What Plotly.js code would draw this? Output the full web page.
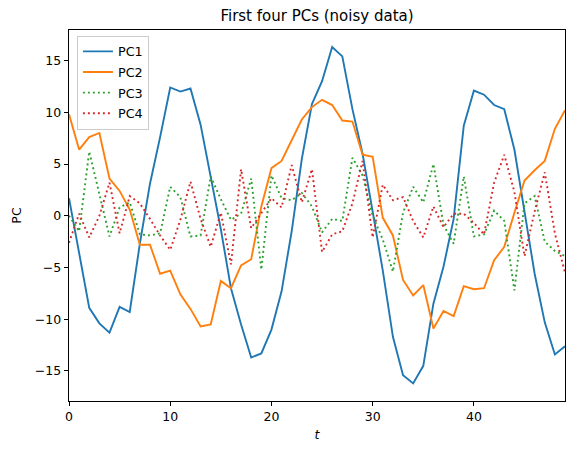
<!DOCTYPE html>
<html>
<head>
<meta charset="utf-8">
<script src="https://cdn.plot.ly/plotly-3.0.1.min.js"></script>
<style>
  html, body { margin: 0; padding: 0; background: #fff; }
  #chart { width: 575px; height: 453px; }
</style>
</head>
<body>
<div id="chart"></div>
<script>
// Time steps 0..49
const t = [
  0, 1, 2, 3, 4, 5, 6, 7, 8, 9,
  10, 11, 12, 13, 14, 15, 16, 17, 18, 19,
  20, 21, 22, 23, 24, 25, 26, 27, 28, 29,
  30, 31, 32, 33, 34, 35, 36, 37, 38, 39,
  40, 41, 42, 43, 44, 45, 46, 47, 48, 49
];

// Principal component scores
const pc1 = [
  1.7, -3.8, -8.9, -10.4, -11.3, -8.8, -9.3, -2.7, 3.1, 7.6,
  12.4, 12.0, 12.3, 8.8, 3.8, -1.3, -7.0, -10.5, -13.7, -13.3,
  -11.0, -7.3, -1.5, 5.5, 10.8, 13.0, 16.3, 15.4, 10.3, 6.0,
  0.4, -5.3, -11.7, -15.4, -16.2, -14.5, -8.5, -4.9, -0.3, 8.7,
  12.1, 11.7, 10.7, 10.3, 6.4, 0.3, -5.6, -10.3, -13.4, -12.6
];
const pc2 = [
  9.8, 6.4, 7.6, 8.0, 3.6, 2.4, 0.6, -2.8, -2.8, -5.6,
  -5.3, -7.6, -9.0, -10.7, -10.5, -6.3, -7.0, -4.8, -4.2, 0.9,
  4.6, 5.3, 7.3, 9.3, 10.5, 11.2, 10.7, 9.2, 9.1, 5.9,
  5.7, -0.2, -1.9, -6.2, -7.7, -6.7, -10.9, -9.2, -9.7, -6.8,
  -7.1, -7.0, -4.3, -3.0, 0.3, 3.4, 4.4, 5.3, 8.4, 10.2
];
const pc3 = [
  0.0, -1.5, 6.2, 2.0, -2.0, 0.8, 1.3, -1.8, -1.9, -1.7,
  2.8, 1.8, -2.0, -1.9, 3.8, 1.6, -0.4, 0.2, 3.6, -5.2,
  3.9, 1.7, 1.5, 2.2, 0.9, -1.6, -0.3, -0.5, 5.6, 3.9,
  0.0, -2.3, -5.4, 0.3, 2.8, 1.3, 5.0, -0.9, -2.7, 3.8,
  -2.0, -1.8, 0.5, -0.5, -7.2, 1.2, 1.9, -2.5, -3.4, -3.9
];
const pc4 = [
  -2.6, 0.2, -2.1, 0.0, 3.2, -1.7, 1.9, 1.2, -0.3, -1.9,
  -3.3, -0.4, 3.3, -0.3, -3.0, 0.3, -4.7, 4.5, -1.2, 0.2,
  1.7, 0.8, 4.9, 1.3, 4.5, -3.5, -1.8, -1.5, 1.2, 5.3,
  -2.1, 3.0, 1.5, 1.8, -0.5, -2.1, 0.9, -1.1, 0.2, 0.2,
  -0.7, -1.8, 3.2, 5.9, 2.3, -3.9, 0.4, 4.2, -1.7, -5.5
];

const seriesNames = ['PC1', 'PC2', 'PC3', 'PC4'];
const xTicks = [0, 10, 20, 30, 40];
const yTicks = [-15, -10, -5, 0, 5, 10, 15];

const FONT = 'DejaVu Sans, sans-serif';
const dotted = '1.9px,3.1px';

const traces = [
  { y: pc1, name: seriesNames[0], line: { color: '#1f77b4', width: 1.9 } },
  { y: pc2, name: seriesNames[1], line: { color: '#ff7f0e', width: 1.9 } },
  { y: pc3, name: seriesNames[2], line: { color: '#2ca02c', width: 1.9, dash: dotted } },
  { y: pc4, name: seriesNames[3], line: { color: '#d62728', width: 1.9, dash: dotted } }
].map(s => Object.assign({ x: t, type: 'scatter', mode: 'lines', legendgroup: s.name }, s));

const axisCommon = {
  showline: true, mirror: true, linecolor: '#000', linewidth: 1,
  ticks: 'outside', ticklen: 4.4, tickwidth: 1, tickcolor: '#000',
  showgrid: false, zeroline: false,
  tickfont: { family: FONT, size: 12.5, color: '#000' }
};

const layout = {
  width: 575, height: 453,
  margin: { l: 69, r: 10, t: 30, b: 52 },
  paper_bgcolor: '#fff', plot_bgcolor: '#fff',
  font: { family: FONT, color: '#000' },
  title: {
    text: 'First four PCs (noisy data)',
    font: { family: FONT, size: 15, color: '#000' },
    x: 0.5, xref: 'paper', xanchor: 'center',
    y: 0.965, yref: 'container', yanchor: 'middle'
  },
  xaxis: Object.assign({}, axisCommon, {
    range: [0, 49], tickvals: xTicks,
    title: { text: '<i>t</i>', font: { family: FONT, size: 12.5, color: '#000' }, standoff: 6 }
  }),
  yaxis: Object.assign({}, axisCommon, {
    range: [-17.9, 17.95], tickvals: yTicks,
    title: { text: 'PC', font: { family: FONT, size: 12.5, color: '#000' }, standoff: 10 }
  }),
  legend: {
    x: 0.016, y: 0.985, xanchor: 'left', yanchor: 'top',
    bgcolor: 'rgba(255,255,255,0.8)', bordercolor: '#cccccc', borderwidth: 1,
    font: { family: FONT, size: 12.8, color: '#000' },
    itemwidth: 30, traceorder: 'grouped', tracegroupgap: 1
  },
  showlegend: true
};

Plotly.newPlot('chart', traces, layout, { staticPlot: true, displayModeBar: false });
</script>
</body>
</html>
